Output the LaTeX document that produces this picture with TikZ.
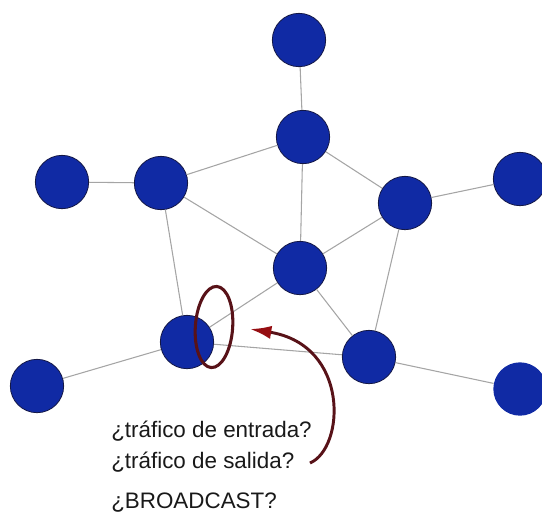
\documentclass[tikz,border=0pt]{standalone}
\usepackage{fontspec}
\setmainfont{Liberation Sans}
\usetikzlibrary{arrows.meta,shapes.geometric}

\definecolor{nodeblue}{RGB}{16,42,164}
\definecolor{nodeedge}{RGB}{20,24,70}
\definecolor{linkgray}{RGB}{165,165,165}
\definecolor{markred}{RGB}{88,18,24}
\definecolor{tipred}{RGB}{150,14,18}
\definecolor{textdark}{RGB}{25,25,25}

\tikzset{
  host/.style={circle, fill=nodeblue, draw=nodeedge, line width=0.6pt,
               minimum size=40pt, inner sep=0pt},
  link/.style={draw=linkgray, line width=0.8pt},
  question/.style={anchor=base west, inner sep=0pt, text=textdark,
                   font=\fontsize{16.8}{19}\selectfont},
}

\begin{document}
\begin{tikzpicture}[x=0.75pt, y=-0.75pt]
  \clip (0,0) rectangle (542,512);
  \useasboundingbox (0,0) rectangle (542,512);

  % hosts of the network
  \node[host] (top)  at (299,40)  {};
  \node[host] (up)   at (303,137) {};
  \node[host] (ll)   at (62,182)  {};
  \node[host] (l)    at (161,183) {};
  \node[host] (r)    at (405,203) {};
  \node[host] (fr)   at (520,179) {};
  \node[host] (c)    at (300,268) {};
  \node[host] (bl)   at (187,342) {};
  \node[host] (blf)  at (37,386)  {};
  \node[host] (br)   at (369,357) {};
  \node[host, draw=none] (fbr) at (520,389) {};

  % links
  \draw[link] (top) -- (up);
  \draw[link] (up) -- (l);
  \draw[link] (up) -- (r);
  \draw[link] (up) -- (c);
  \draw[link] (ll) -- (l);
  \draw[link] (l) -- (c);
  \draw[link] (l) -- (bl);
  \draw[link] (r) -- (fr);
  \draw[link] (r) -- (c);
  \draw[link] (r) -- (br);
  \draw[link] (c) -- (bl);
  \draw[link] (c) -- (br);
  \draw[link] (bl) -- (blf);
  \draw[link] (bl) -- (br);
  \draw[link] (br) -- (fbr);

  % observed interface
  \node[ellipse, draw=markred, line width=2.3pt, minimum width=28pt,
        minimum height=61pt, inner sep=0pt, rotate=-4] (port) at (214,327) {};

  % questions
  \node[question] (q1) at (111,437) {¿tráfico de entrada?};
  \node[question] (q2) at (111,468) {¿tráfico de salida?};
  \node[question] (q3) at (111,508) {¿BROADCAST?};

  % pointer from the questions to the interface
  \coordinate (tail) at (310,463);
  \coordinate (tip)  at (250,329);
  \draw[markred, line width=2.2pt,
        -{Latex[length=16pt, width=10pt, color=tipred]}]
    (tail) .. controls (345,448) and (350,345) .. (tip);
\end{tikzpicture}
\end{document}
